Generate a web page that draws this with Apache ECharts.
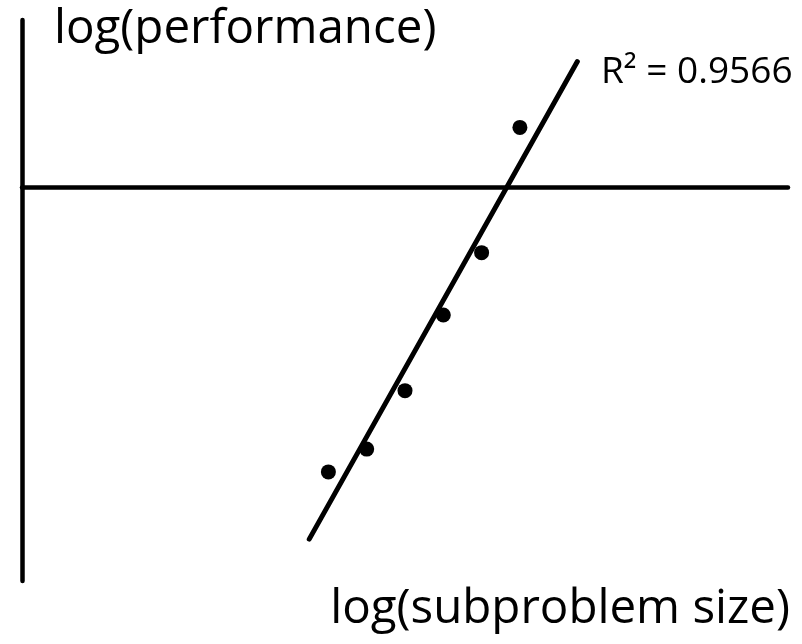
<!DOCTYPE html>
<html>
<head>
<meta charset="utf-8">
<script src="https://cdn.jsdelivr.net/npm/echarts@6/dist/echarts.min.js"></script>
<style>
  html, body { margin: 0; padding: 0; background: #fff; }
  #chart { width: 802px; height: 644px; }
</style>
</head>
<body>
<div id="chart"></div>
<script>
// log(subproblem size) for each measured run
var logSize = [4.0, 4.5, 5.0, 5.5, 6.0, 6.5];
// log(performance) for each measured run
var logPerf = [-5.12, -4.71, -3.66, -2.30, -1.18, 1.07];
// extent of the fitted line along the x axis
var fitRange = [3.75, 7.25];
var r2Label = 'R\u00B2 = 0.9566';
var yTitle = 'log(performance)';
var xTitle = 'log(subproblem size)';

// least-squares fit through the measured points
function linearFit(xs, ys) {
  var n = xs.length, mx = 0, my = 0;
  for (var i = 0; i < n; i++) { mx += xs[i]; my += ys[i]; }
  mx /= n; my /= n;
  var sxy = 0, sxx = 0;
  for (var j = 0; j < n; j++) {
    sxy += (xs[j] - mx) * (ys[j] - my);
    sxx += (xs[j] - mx) * (xs[j] - mx);
  }
  var slope = sxy / sxx;
  return { slope: slope, intercept: my - slope * mx };
}

var fit = linearFit(logSize, logPerf);
var fitLine = fitRange.map(function (x) { return [x, fit.intercept + fit.slope * x]; });
var points = logSize.map(function (x, i) { return [x, logPerf[i]]; });

var font = '"Open Sans", sans-serif';
var chart = echarts.init(document.getElementById('chart'), null, { renderer: 'canvas' });
chart.setOption({
  animation: false,
  backgroundColor: '#ffffff',
  grid: { left: 22, right: 14, top: 20, bottom: 63, containLabel: false },
  xAxis: {
    type: 'value', min: 0, max: 10,
    axisLine: { onZero: true, lineStyle: { color: '#000', width: 4.5 } },
    axisTick: { show: false }, axisLabel: { show: false }, splitLine: { show: false }
  },
  yAxis: {
    type: 'value', min: -7.08, max: 3,
    axisLine: { show: true, onZero: false, lineStyle: { color: '#000', width: 4.5 } },
    axisTick: { show: false }, axisLabel: { show: false }, splitLine: { show: false }
  },
  series: [
    {
      type: 'line', data: fitLine, symbol: 'none',
      lineStyle: { color: '#000', width: 5, cap: 'round' }, z: 3
    },
    {
      type: 'scatter', data: points, symbol: 'circle', symbolSize: 15,
      itemStyle: { color: '#000', opacity: 1 }, z: 4
    }
  ],
  graphic: [
    { type: 'text', left: 54, top: 5, style: { text: yTitle, font: '47.5px ' + font, fill: '#000' } },
    { type: 'text', left: 601, top: 54, style: { text: r2Label, font: '37px ' + font, fill: '#000' } },
    { type: 'text', right: 12, top: 585, style: { text: xTitle, font: '47.5px ' + font, fill: '#000' } }
  ]
});
</script>
</body>
</html>
